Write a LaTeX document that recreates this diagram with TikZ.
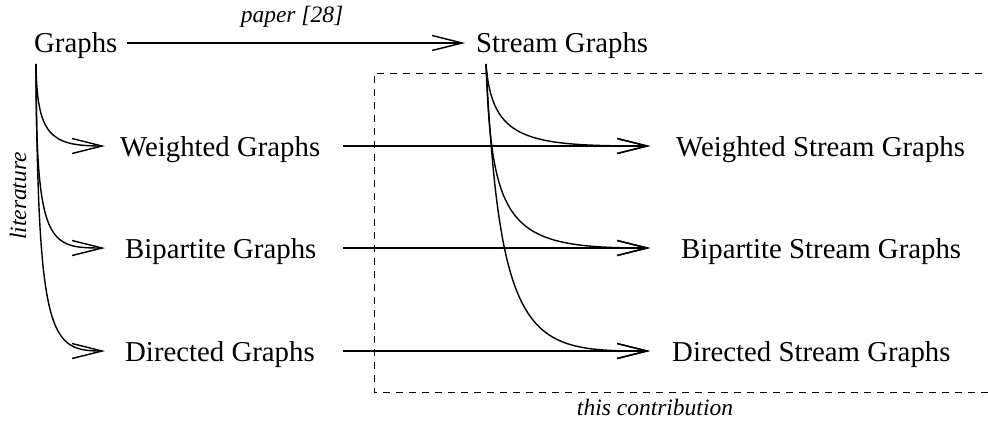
\documentclass[tikz,border=0pt]{standalone}
\usepackage{fontspec}
\setmainfont{Liberation Serif}
\usetikzlibrary{arrows.meta}
\begin{document}
\begin{tikzpicture}[x=1pt,y=-1pt,
  lab/.style={font=\fontsize{28.8}{34}\selectfont, inner sep=0pt, text height=20pt, text depth=0pt, anchor=west},
  note/.style={font=\fontsize{23.5}{28}\selectfont\itshape, inner sep=0pt},
  arr/.style={line width=1.4pt, -{Straight Barb[length=30pt,width=15pt]}},
  box/.style={line width=0.9pt, dash pattern=on 7pt off 6pt}]
\useasboundingbox (0,0) rectangle (988,428);
% nodes
\node[lab] (g)   at (34,43)  {Graphs};
\node[lab] (sg)  at (476,43) {Stream Graphs};
\node[lab] (wg)  at (120,146) {Weighted Graphs};
\node[lab] (bg)  at (125,248) {Bipartite Graphs};
\node[lab] (dg)  at (125,351) {Directed Graphs};
\node[lab] (wsg) at (676,146) {Weighted Stream Graphs};
\node[lab] (bsg) at (681,248) {Bipartite Stream Graphs};
\node[lab] (dsg) at (672,351) {Directed Stream Graphs};
\node[note, anchor=base] (paper) at (292,23) {paper [28]};
\node[note, anchor=base] (contrib) at (655,415) {this contribution};
\node[note, rotate=90] (lit) at (18,196) {literature};
% helper coordinates
\coordinate (gt) at (36,64);
\coordinate (st) at (486,64);
\coordinate (lt) at (105,0);
\coordinate (hs) at (343,0);
\coordinate (ht) at (650,0);
% dashed box
\draw[box] (995,73) -| (374,392) -- (995,392);
% top arrow
\draw[arr] ([xshift=9pt]g.east) -- ([xshift=-11pt]sg.west);
% left literature curves
\draw[arr] (gt) .. controls (37,135) and (50,146) .. (wg.west -| lt);
\draw[arr] (gt) .. controls (36,244) and (48,248) .. (bg.west -| lt);
\draw[arr] (gt) .. controls (38,337) and (50,351) .. (dg.west -| lt);
% horizontal arrows
\draw[arr] (wg.east -| hs) -- (wsg.west -| ht);
\draw[arr] (bg.east -| hs) -- (bsg.west -| ht);
\draw[arr] (dg.east -| hs) -- (dsg.west -| ht);
% stream curves
\draw[arr] (st) .. controls (492,140) and (525,146) .. (wsg.west -| ht);
\draw[arr] (st) .. controls (492,230) and (510,248) .. (bsg.west -| ht);
\draw[arr] (st) .. controls (500,345) and (530,351) .. (dsg.west -| ht);
\end{tikzpicture}
\end{document}
